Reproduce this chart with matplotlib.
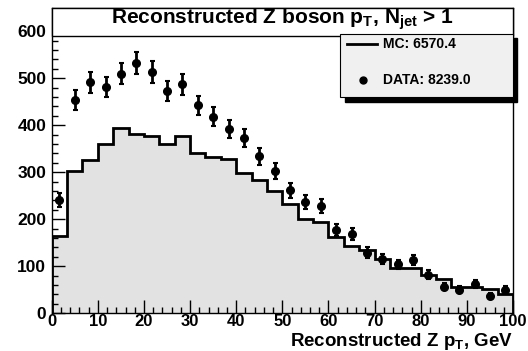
import numpy as np
import matplotlib
matplotlib.use("Agg")
from matplotlib import pyplot as plt
from matplotlib.patches import Rectangle
from matplotlib.lines import Line2D
from matplotlib.ticker import MultipleLocator

plt.rcParams['font.family'] = ['Liberation Sans', 'DejaVu Sans']
plt.rcParams['font.weight'] = 'bold'
plt.rcParams['mathtext.fontset'] = 'custom'
plt.rcParams['mathtext.rm'] = 'Liberation Sans:bold'
plt.rcParams['mathtext.bf'] = 'Liberation Sans:bold'

# Z pT histogram, 30 bins from 0 to 100 GeV
bin_edges = np.linspace(0, 100, 31)
mc_counts = [165, 303, 326, 360, 394, 381, 378, 360, 377, 342,
             332, 329, 298, 284, 260, 232, 201, 195, 162, 143,
             135, 115, 96, 96, 82, 72, 55, 55, 51, 40]
data_counts = [241, 453, 491, 481, 510, 532, 513, 473, 487, 442,
               418, 392, 373, 334, 303, 262, 237, 229, 177, 169,
               129, 116, 104, 113, 82, 57, 50, 62, 37, 50]
mc_label = "MC: 6570.4"
data_label = "DATA: 8239.0"

centers = 0.5 * (bin_edges[:-1] + bin_edges[1:])
data_err = np.sqrt(data_counts)

fig = plt.figure(figsize=(5.28, 3.51), dpi=100)
ax = fig.add_axes([51.7 / 528, 1 - 313.3 / 351, (513 - 51.7) / 528, (313.3 - 7.7) / 351])

ax.stairs(mc_counts, bin_edges, fill=True, color='#e2e2e2', zorder=1)
ax.stairs(mc_counts, bin_edges, color='black', linewidth=2.0, zorder=2)
ax.errorbar(centers, data_counts, yerr=data_err, fmt='o', color='black',
            markersize=5.5, elinewidth=2, capsize=1.8, capthick=1.5, zorder=3)

ax.set_xlim(0, 100)
ax.set_ylim(0, 650)
ax.xaxis.set_major_locator(MultipleLocator(10))
ax.xaxis.set_minor_locator(MultipleLocator(2))
ax.yaxis.set_major_locator(MultipleLocator(100))
ax.yaxis.set_minor_locator(MultipleLocator(20))
ax.tick_params(which='both', direction='in', top=False, right=False, width=1)
ax.tick_params(which='major', length=9.5, labelsize=12.5)
ax.tick_params(which='minor', length=4.5)
ax.tick_params(axis='x', pad=0.5, labelsize=12)
ax.tick_params(axis='y', pad=4)
for lab in ax.get_xticklabels() + ax.get_yticklabels():
    lab.set_fontweight('bold')
for sp in ax.spines.values():
    sp.set_linewidth(1)

# title pave across the top of the frame
title_y0 = (313.3 - 35.5) / (313.3 - 7.7)
ax.add_patch(Rectangle((0, title_y0), 1, 1 - title_y0, transform=ax.transAxes,
                       facecolor='white', edgecolor='black', linewidth=1,
                       zorder=5, clip_on=False))
ax.text(0.5, (1 + title_y0) / 2 + 0.008,
        r"Reconstructed Z boson p$_{\rm T}$, N$_{\rm jet}$ > 1",
        transform=ax.transAxes, ha='center', va='center', fontsize=15,
        fontweight='bold', zorder=6)

# legend pave with drop shadow
def px_to_axes(x, y):
    return (x - 51.7) / (513 - 51.7), (313.3 - y) / (313.3 - 7.7)

lx0, ly0 = px_to_axes(340, 97)
lx1, ly1 = px_to_axes(512.5, 34)
sx, sy = px_to_axes(344.5, 101.5)
ax.add_patch(Rectangle((sx, sy), lx1 - lx0, ly1 - ly0, transform=ax.transAxes,
                       facecolor='black', edgecolor='black', zorder=7, clip_on=False))
ax.add_patch(Rectangle((lx0, ly0), lx1 - lx0, ly1 - ly0, transform=ax.transAxes,
                       facecolor='#f0f0f0', edgecolor='black', linewidth=0.8,
                       zorder=8, clip_on=False))
ax.add_line(Line2D([px_to_axes(347, 0)[0], px_to_axes(377, 0)[0]],
                   [px_to_axes(0, 43.5)[1]] * 2, transform=ax.transAxes,
                   color='black', linewidth=2, zorder=9))
ax.plot([px_to_axes(363, 0)[0]], [px_to_axes(0, 80)[1]], 'o', color='black',
        markersize=5, transform=ax.transAxes, zorder=9, clip_on=False)
tx = px_to_axes(383, 0)[0]
ax.text(tx, px_to_axes(0, 43.5)[1], mc_label, transform=ax.transAxes,
        ha='left', va='center', fontsize=10, fontweight='bold', zorder=9)
ax.text(tx, px_to_axes(0, 80)[1], data_label, transform=ax.transAxes,
        ha='left', va='center', fontsize=10, fontweight='bold', zorder=9)

ax.text(1.0, px_to_axes(0, 331.5)[1], r"Reconstructed Z p$_{\rm T}$, GeV",
        transform=ax.transAxes, ha='right', va='top', fontsize=13.5,
        fontweight='bold', zorder=10)

fig.savefig("out.png", dpi=100)
